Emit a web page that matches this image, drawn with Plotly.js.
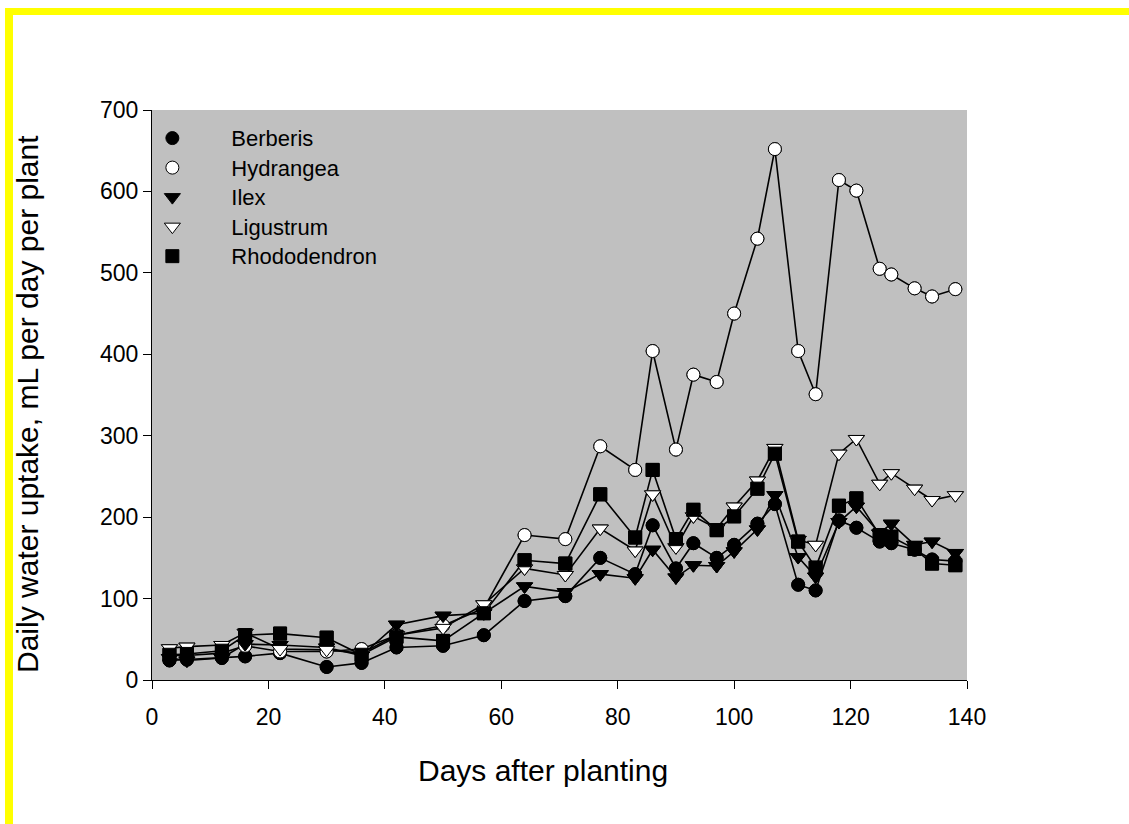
<!DOCTYPE html>
<html>
<head>
<meta charset="utf-8">
<script src="https://cdn.plot.ly/plotly-3.0.1.min.js"></script>
<style>
  html, body { margin: 0; padding: 0; background: #ffffff; }
  #wrap { position: relative; width: 1129px; height: 824px; overflow: hidden; }
  #chart { position: absolute; left: 0; top: 0; width: 1129px; height: 824px; }
  #frame { position: absolute; left: 5px; top: 8px; right: 0; bottom: 0;
           border-top: 7px solid #ffff00; border-left: 8px solid #ffff00; pointer-events: none; }
</style>
</head>
<body>
<div id="wrap">
  <div id="chart"></div>
  <div id="frame"></div>
</div>
<script>
// Days after planting
const days = [3, 6, 12, 16, 22, 30, 36, 42, 50, 57, 64, 71, 77, 83, 86, 90, 93, 97, 100, 104, 107, 111, 114, 118, 121, 125, 127, 131, 134, 138];

// Daily water uptake, mL per day per plant
const berberis     = [24, 25, 27, 29, 33, 16, 21, 40, 42, 55, 97, 103, 150, 130, 190, 137, 168, 150, 166, 192, 216, 117, 110, 196, 187, 170, 168, 160, 148, 146];
const hydrangea    = [30, 30, 33, 42, 35, 35, 38, 55, 67, 88, 178, 173, 287, 258, 404, 283, 375, 366, 450, 542, 652, 404, 351, 614, 601, 505, 498, 481, 471, 480];
const ilex         = [27, 24, 27, 44, 43, 40, 30, 68, 79, 82, 115, 108, 130, 125, 160, 126, 141, 140, 158, 185, 227, 151, 127, 194, 213, 180, 192, 166, 170, 156];
const ligustrum    = [39, 41, 43, 58, 38, 37, 33, 55, 64, 93, 137, 129, 186, 159, 228, 163, 201, 186, 213, 245, 285, 172, 166, 278, 296, 241, 254, 235, 221, 227];
const rhododendron = [31, 32, 36, 55, 57, 52, 31, 53, 48, 82, 147, 143, 228, 175, 258, 173, 209, 184, 201, 235, 278, 170, 138, 214, 223, 178, 176, 161, 143, 141];

const seriesNames = ['Berberis', 'Hydrangea', 'Ilex', 'Ligustrum', 'Rhododendron'];
const xTitle = 'Days after planting';
const yTitle = 'Daily water uptake, mL per day per plant';

const seriesData = [berberis, hydrangea, ilex, ligustrum, rhododendron];
const symbols = ['circle', 'circle', 'triangle-down', 'triangle-down', 'square'];
const fills = ['#000000', '#ffffff', '#000000', '#ffffff', '#000000'];
const sizes = [13, 13, 14, 14, 13];

const traces = [];
seriesNames.forEach((name, i) => {
  traces.push({
    x: days, y: seriesData[i], type: 'scatter', mode: 'lines+markers',
    name: name, showlegend: false,
    line: { color: '#000000', width: 1.6 },
    marker: { symbol: symbols[i], size: sizes[i], color: fills[i], line: { color: '#000000', width: 1 } },
    cliponaxis: false
  });
});
seriesNames.forEach((name, i) => {
  traces.push({
    x: days, y: seriesData[i], type: 'scatter', mode: 'markers',
    name: '<span style="font-size:22px">' + name + '</span>', showlegend: true,
    marker: { symbol: symbols[i], size: sizes[i], color: fills[i], line: { color: '#000000', width: 1 } },
    cliponaxis: false
  });
});

const font = { family: 'Arial, "Liberation Sans", sans-serif', color: '#000000' };

const layout = {
  width: 1129, height: 824,
  margin: { l: 152, r: 162, t: 110, b: 144, pad: 0 },
  paper_bgcolor: '#ffffff',
  plot_bgcolor: '#c0c0c0',
  font: Object.assign({ size: 21 }, font),
  showlegend: true,
  legend: {
    x: -0.0474, y: 0.9854, xanchor: 'left', yanchor: 'top',
    bgcolor: 'rgba(0,0,0,0)', borderwidth: 0,
    itemwidth: 108, tracegroupgap: 0,
    font: Object.assign({ size: 20.4 }, font)
  },
  xaxis: {
    range: [0, 140], tickmode: 'linear', tick0: 0, dtick: 20,
    showgrid: false, zeroline: false,
    showline: true, linecolor: '#000000', linewidth: 1,
    ticks: 'outside', ticklen: 8, tickcolor: '#000000', tickwidth: 1,
    ticklabelstandoff: 8,
    tickfont: Object.assign({ size: 23 }, font),
    automargin: false
  },
  yaxis: {
    range: [0, 700], tickmode: 'linear', tick0: 0, dtick: 100,
    showgrid: false, zeroline: false,
    showline: true, linecolor: '#000000', linewidth: 1,
    ticks: 'outside', ticklen: 8, tickcolor: '#000000', tickwidth: 1,
    tickfont: Object.assign({ size: 23 }, font),
    automargin: false
  },
  annotations: [
    { text: xTitle, xref: 'paper', yref: 'paper', x: 0.4798, y: -0.158,
      xanchor: 'center', yanchor: 'middle', showarrow: false,
      font: Object.assign({ size: 30 }, font) },
    { text: yTitle, xref: 'paper', yref: 'paper', x: -0.1534, y: 0.4842,
      xanchor: 'center', yanchor: 'middle', showarrow: false, textangle: -90,
      font: Object.assign({ size: 30 }, font) }
  ]
};

Plotly.newPlot('chart', traces, layout, { staticPlot: true, displayModeBar: false });
</script>
</body>
</html>
